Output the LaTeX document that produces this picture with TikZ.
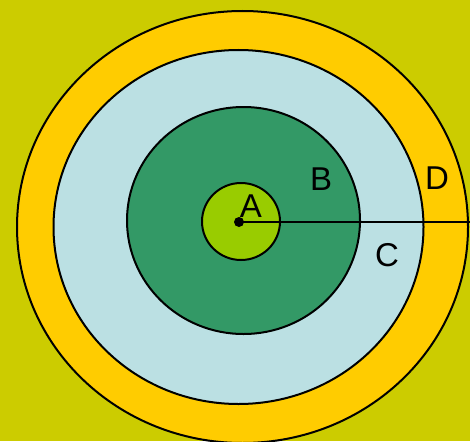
\documentclass[tikz,border=0pt]{standalone}
\usepackage{fontspec}
\setmainfont{Liberation Sans}
\definecolor{bgfill}{HTML}{CCCC00}
\definecolor{dfill}{HTML}{FFCC00}
\definecolor{cfill}{HTML}{BBE0E3}
\definecolor{bfill}{HTML}{339966}
\definecolor{afill}{HTML}{99CC00}
\begin{document}
\begin{tikzpicture}[x=1pt,y=-1pt,
 every node/.style={font=\fontsize{33}{38}\selectfont,inner sep=0pt},
 ring/.style={draw=black,line width=2pt},
 lbl/.style={anchor=center}]
\fill[bgfill] (0,0) rectangle (470,441);
\useasboundingbox (0,0) rectangle (470,441);
\coordinate (ctr) at (239,222);
\coordinate (edge) at (470,222);
\draw[ring,fill=dfill] (242.5,227) ellipse [x radius=225.5,y radius=216];
\draw[ring,fill=cfill] (238.5,227) ellipse [x radius=185,y radius=177];
\draw[ring,fill=bfill] (243.5,220.5) ellipse [x radius=116.5,y radius=113.5];
\draw[ring,fill=afill] (241,221.5) ellipse [x radius=39,y radius=38.5];
\draw[line width=2pt] (ctr) -- (edge);
\fill (ctr) circle [radius=5];
\node[lbl] (la) at (251,206) {A};
\node[lbl] (lb) at (321,179) {B};
\node[lbl] (lc) at (387,255) {C};
\node[lbl] (ld) at (437,178) {D};
\end{tikzpicture}
\end{document}
